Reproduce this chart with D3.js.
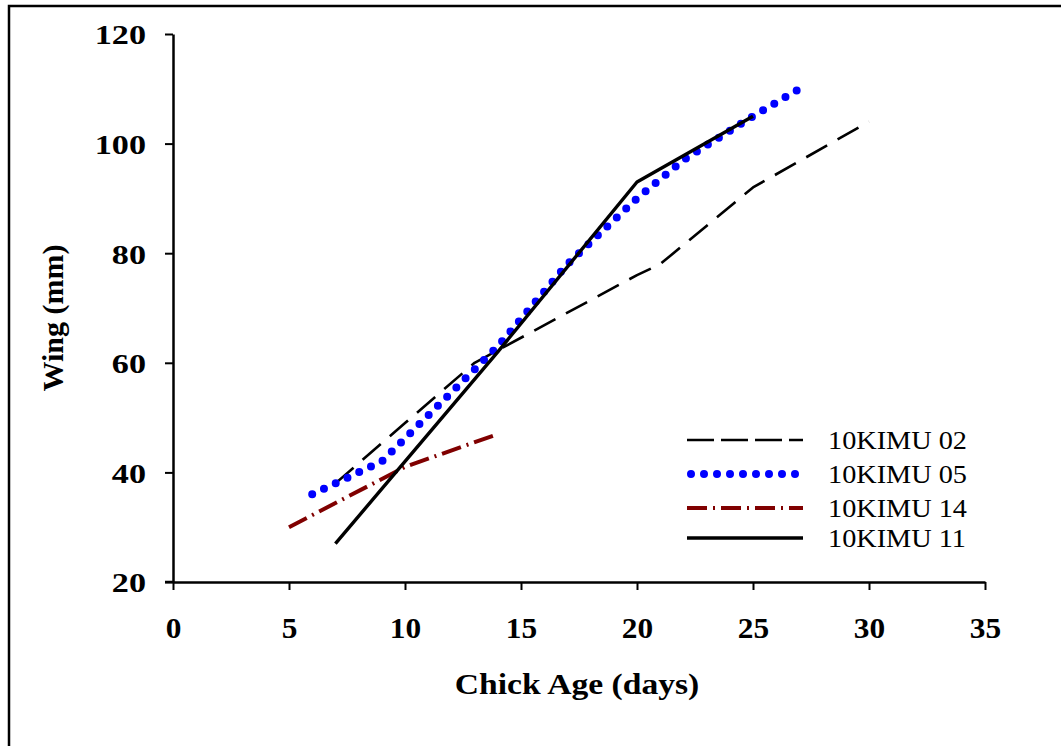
<!DOCTYPE html>
<html>
<head>
<meta charset="utf-8">
<script src="https://cdn.jsdelivr.net/npm/d3@7"></script>
<style>
  body { margin: 0; background: #fff; }
  svg text { font-family: "Liberation Serif", "Times New Roman", serif; fill: #000; }
</style>
</head>
<body>
<svg id="chart" width="1061" height="746"></svg>
<script>
// Chick age (days) and wing length (mm) for each chick
const days02 = [7, 10, 13, 20, 21, 25, 30];
const wing02 = [38, 49, 60, 76, 78, 92, 104];
const days05 = [6, 9, 14, 17, 20, 22, 25, 27];
const wing05 = [36, 42, 63, 78, 90, 97, 105, 110];
const days14 = [5, 10, 14];
const wing14 = [30, 41, 47];
const days11 = [7, 14, 20, 25];
const wing11 = [27, 62, 93, 105];

const xTicks = [0, 5, 10, 15, 20, 25, 30, 35];
const yTicks = [20, 40, 60, 80, 100, 120];
const seriesNames = ["10KIMU 02", "10KIMU 05", "10KIMU 14", "10KIMU 11"];

// Line styles per series (same order as seriesNames)
const styles = [
    {color: "#000", width: 2.6, dash: "24,12", cap: "butt"},
    {color: "#0000ff", width: 8, dash: "0,13", cap: "round"},
    {color: "#800000", width: 4, dash: "20,6,2,6", cap: "butt"},
    {color: "#000", width: 3.4, dash: null, cap: "butt"},
];

const series = [
    days02.map((d, i) => [d, wing02[i]]),
    days05.map((d, i) => [d, wing05[i]]),
    days14.map((d, i) => [d, wing14[i]]),
    days11.map((d, i) => [d, wing11[i]]),
];

const svg = d3.select("#chart");

// Outer frame (right and bottom edges fall outside the picture)
svg.append("rect")
    .attr("x", 9).attr("y", 6)
    .attr("width", 1070).attr("height", 760)
    .attr("fill", "none")
    .attr("stroke", "#000")
    .attr("stroke-width", 2.5);

const x = d3.scaleLinear().domain([0, 35]).range([173, 985]);
const y = d3.scaleLinear().domain([20, 120]).range([582, 34]);

// stretch text horizontally, the original picture is a bit wider than tall
function stretch(sel, k) {
    sel.each(function () {
        const len = this.getComputedTextLength();
        d3.select(this).attr("textLength", len * k).attr("lengthAdjust", "spacingAndGlyphs");
    });
}

// X axis
const xAxis = svg.append("g")
    .attr("transform", "translate(0," + y(20) + ")")
    .call(d3.axisBottom(x).tickValues(xTicks).tickSize(8).tickSizeOuter(0).tickPadding(0));
xAxis.select(".domain").attr("stroke-width", 2.5);
xAxis.selectAll(".tick line").attr("stroke-width", 2);
xAxis.selectAll(".tick text")
    .attr("dy", null)
    .attr("y", 56)
    .style("font-size", "29px")
    .style("font-weight", "bold")
    .style("font-family", "Liberation Serif");
stretch(xAxis.selectAll(".tick text"), 1.08);

// Y axis
const yAxis = svg.append("g")
    .attr("transform", "translate(" + x(0) + ",0)")
    .call(d3.axisLeft(y).tickValues(yTicks).tickSize(8).tickSizeOuter(0).tickPadding(0));
yAxis.select(".domain").attr("stroke-width", 2.5);
yAxis.selectAll(".tick line").attr("stroke-width", 2);
yAxis.selectAll(".tick text")
    .attr("x", -27)
    .attr("dy", "0.35em")
    .style("font-size", "28px")
    .style("font-weight", "bold")
    .style("font-family", "Liberation Serif");
stretch(yAxis.selectAll(".tick text"), 1.22);

// extend x axis line to the left tick of y axis
svg.append("line")
    .attr("x1", x(0) - 8).attr("x2", x(0))
    .attr("y1", y(20)).attr("y2", y(20))
    .attr("stroke", "#000").attr("stroke-width", 2.5);

// Axis titles
const xTitle = svg.append("text")
    .attr("x", 577).attr("y", 694)
    .attr("text-anchor", "middle")
    .style("font-size", "30px")
    .style("font-weight", "bold")
    .text("Chick Age (days)");
stretch(xTitle, 1.12);

svg.append("text")
    .attr("transform", "translate(63,318) rotate(-90)")
    .attr("text-anchor", "middle")
    .style("font-size", "30px")
    .style("font-weight", "bold")
    .text("Wing (mm)");

// Lines
const line = d3.line()
    .x(d => x(d[0]))
    .y(d => y(d[1]));

svg.selectAll(".series")
    .data(series)
    .join("path")
    .attr("class", "series")
    .attr("d", line)
    .attr("fill", "none")
    .attr("stroke", (d, i) => styles[i].color)
    .attr("stroke-width", (d, i) => styles[i].width)
    .attr("stroke-dasharray", (d, i) => styles[i].dash)
    .attr("stroke-linecap", (d, i) => styles[i].cap)
    .attr("stroke-linejoin", "round");

// Legend
const legend = svg.append("g").attr("transform", "translate(687,440)");
const rowY = [0, 34, 68, 98];
seriesNames.forEach((name, i) => {
    const s = styles[i];
    legend.append("line")
        .attr("x1", i === 1 ? 4 : 0).attr("x2", 116)
        .attr("y1", rowY[i]).attr("y2", rowY[i])
        .attr("stroke", s.color)
        .attr("stroke-width", s.width)
        .attr("stroke-dasharray", i === 0 ? "27,7" : s.dash)
        .attr("stroke-linecap", s.cap);
    const t = legend.append("text")
        .attr("x", 141).attr("y", rowY[i] + 9)
        .style("font-size", "25px")
        .text(name);
    stretch(t, 1.13);
});
</script>
</body>
</html>
